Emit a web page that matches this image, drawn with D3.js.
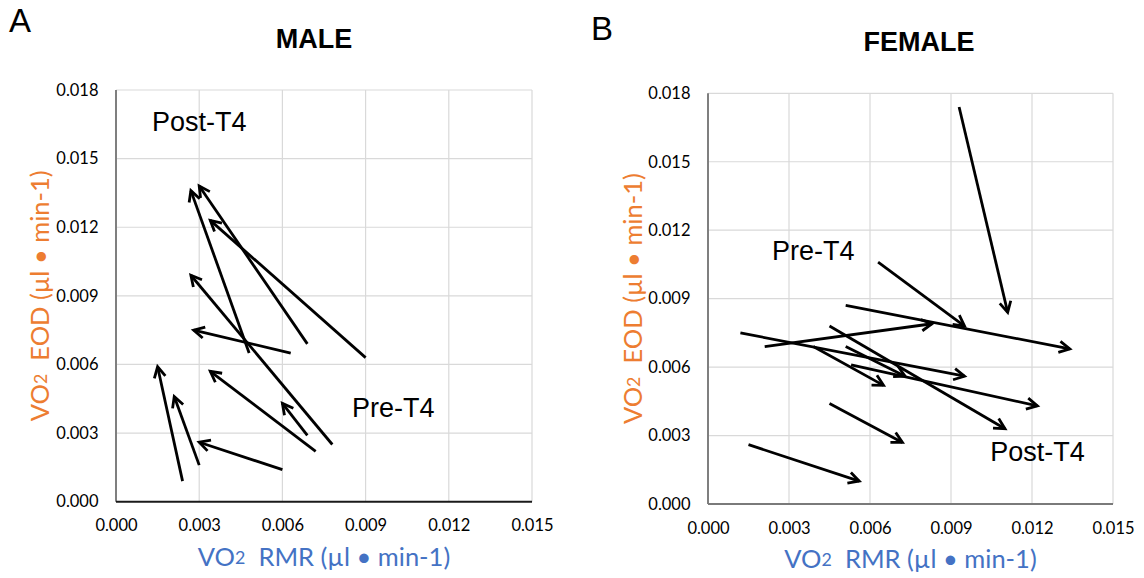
<!DOCTYPE html>
<html>
<head>
<meta charset="utf-8">
<script src="https://cdn.jsdelivr.net/npm/d3@7"></script>
<style>
  body { margin: 0; background: #fff; }
  svg { display: block; }
</style>
</head>
<body>
<script>
// tick values shared by both panels
var xTicks = [0, 0.003, 0.006, 0.009, 0.012, 0.015];
var yTicks = [0, 0.003, 0.006, 0.009, 0.012, 0.015, 0.018];

// MALE: each arrow goes from pre-T4 (tail) to post-T4 (head)
var maleRmrPre  = [0.0024, 0.0030, 0.0060, 0.0072, 0.0069, 0.0078, 0.0063, 0.0048, 0.0069, 0.0090];
var maleEodPre  = [0.0009, 0.0016, 0.0014, 0.0022, 0.0029, 0.0025, 0.0065, 0.0065, 0.0069, 0.0063];
var maleRmrPost = [0.0015, 0.0021, 0.0030, 0.0034, 0.0060, 0.0027, 0.0028, 0.0027, 0.0030, 0.0034];
var maleEodPost = [0.0059, 0.0046, 0.0026, 0.0057, 0.0043, 0.0099, 0.0075, 0.0136, 0.0138, 0.0123];

// FEMALE
var femaleRmrPre  = [0.0093, 0.0063, 0.0051, 0.0021, 0.0012, 0.0045, 0.0039, 0.0051, 0.0053, 0.0045, 0.0015];
var femaleEodPre  = [0.0174, 0.0106, 0.0087, 0.0069, 0.0075, 0.0078, 0.0069, 0.0069, 0.0061, 0.0044, 0.0026];
var femaleRmrPost = [0.0111, 0.0095, 0.0134, 0.0083, 0.0095, 0.0110, 0.0065, 0.0073, 0.0122, 0.0072, 0.0056];
var femaleEodPost = [0.0084, 0.0078, 0.0068, 0.0079, 0.0056, 0.0033, 0.0052, 0.0056, 0.0043, 0.0027, 0.0010];

// in-plot annotations (data units)
var maleNotes   = [{ text: 'Post-T4', rmr: 0.0030, eod: 0.0166 }, { text: 'Pre-T4', rmr: 0.0100, eod: 0.0041 }];
var femaleNotes = [{ text: 'Pre-T4', rmr: 0.0039, eod: 0.0111 }, { text: 'Post-T4', rmr: 0.0122, eod: 0.0023 }];

var orange = '#ED7D31';
var blue = '#4472C4';
var tickFont = 'Lato, "Liberation Sans", sans-serif';
var arialFont = '"Liberation Sans", Arial, sans-serif';

var svg = d3.select('body').append('svg')
    .attr('width', 1144)
    .attr('height', 578);

function zip(a, b, c, d) {
    return a.map(function (v, i) { return { x0: v, y0: b[i], x1: c[i], y1: d[i] }; });
}

// axis title with small "2" in VO2
function axisTitle(sel, rest) {
    sel.append('tspan').text('VO');
    sel.append('tspan').attr('font-size', '70%').attr('dy', 1).text('2');
    sel.append('tspan').attr('dy', -1).text('\u00a0 ' + rest);
}

function drawPanel(cfg) {
    var g = svg.append('g');
    var x = d3.scaleLinear().domain([0, 0.015]).range([cfg.left, cfg.right]);
    var y = d3.scaleLinear().domain([0, 0.018]).range([cfg.bottom, cfg.top]);

    // grid
    g.selectAll('.vgrid').data(xTicks.slice(1)).enter().append('line')
        .attr('x1', function (d) { return x(d); })
        .attr('x2', function (d) { return x(d); })
        .attr('y1', y(0)).attr('y2', y(0.018))
        .attr('stroke', '#d9d9d9').attr('stroke-width', 1.2);
    g.selectAll('.hgrid').data(yTicks.slice(1)).enter().append('line')
        .attr('y1', function (d) { return y(d); })
        .attr('y2', function (d) { return y(d); })
        .attr('x1', x(0)).attr('x2', x(0.015))
        .attr('stroke', '#d9d9d9').attr('stroke-width', 1.2);

    // tick labels
    var fmt = d3.format('.3f');
    var ax = g.append('g').attr('transform', 'translate(0,' + y(0) + ')')
        .call(d3.axisBottom(x).tickValues(xTicks).tickSize(0).tickPadding(18).tickFormat(fmt));
    var ay = g.append('g').attr('transform', 'translate(' + x(0) + ',0)')
        .call(d3.axisLeft(y).tickValues(yTicks).tickSize(0).tickPadding(17.5).tickFormat(fmt));
    [ax, ay].forEach(function (a) {
        a.select('.domain').remove();
        a.selectAll('text').attr('font-family', tickFont).attr('font-size', 16.5).attr('fill', '#000');
    });

    // axis lines
    g.append('line').attr('x1', x(0)).attr('x2', x(0))
        .attr('y1', y(0)).attr('y2', y(0.018))
        .attr('stroke', '#7f7f7f').attr('stroke-width', 2);
    g.append('line').attr('x1', x(0)).attr('x2', x(0.015))
        .attr('y1', y(0)).attr('y2', y(0))
        .attr('stroke', cfg.xAxisColor).attr('stroke-width', 2);

    // arrows
    var arrows = zip(cfg.rmrPre, cfg.eodPre, cfg.rmrPost, cfg.eodPost);
    var headLen = 12, headAng = 28 / 180 * Math.PI;
    arrows.forEach(function (a) {
        var tx = x(a.x0), ty = y(a.y0), hx = x(a.x1), hy = y(a.y1);
        var ang = Math.atan2(hy - ty, hx - tx);
        g.append('line')
            .attr('x1', tx).attr('y1', ty).attr('x2', hx).attr('y2', hy)
            .attr('stroke', '#000').attr('stroke-width', 2.8);
        var p1 = [hx - headLen * Math.cos(ang - headAng), hy - headLen * Math.sin(ang - headAng)];
        var p2 = [hx - headLen * Math.cos(ang + headAng), hy - headLen * Math.sin(ang + headAng)];
        g.append('path')
            .attr('d', d3.line()([p1, [hx, hy], p2]))
            .attr('fill', 'none').attr('stroke', '#000')
            .attr('stroke-width', 2.8).attr('stroke-linejoin', 'miter');
    });

    // annotations
    g.selectAll('.note').data(cfg.notes).enter().append('text')
        .attr('x', function (d) { return x(d.rmr); })
        .attr('y', function (d) { return y(d.eod); })
        .attr('text-anchor', 'middle')
        .attr('dominant-baseline', 'central')
        .attr('font-family', arialFont).attr('font-size', 27)
        .text(function (d) { return d.text; });

    // title
    g.append('text')
        .attr('x', cfg.titleX).attr('y', cfg.titleY)
        .attr('text-anchor', 'middle')
        .attr('font-family', arialFont).attr('font-size', 27).attr('font-weight', 'bold')
        .text(cfg.title);

    // panel letter
    g.append('text')
        .attr('x', cfg.letterX).attr('y', cfg.letterY)
        .attr('font-family', arialFont).attr('font-size', 33)
        .text(cfg.letter);

    // x axis title
    var xt = g.append('text')
        .attr('x', (cfg.left + cfg.right) / 2).attr('y', cfg.bottom + 54)
        .attr('dominant-baseline', 'central')
        .attr('text-anchor', 'middle')
        .attr('font-family', tickFont).attr('font-size', 25.5)
        .attr('fill', blue);
    axisTitle(xt, 'RMR (µl • min-1)');

    // y axis title
    var yt = g.append('text')
        .attr('transform', 'translate(' + cfg.yTitleX + ',' + (cfg.top + cfg.bottom) / 2 + ') rotate(-90)')
        .attr('dominant-baseline', 'central')
        .attr('text-anchor', 'middle')
        .attr('font-family', tickFont).attr('font-size', 25.5)
        .attr('fill', orange);
    axisTitle(yt, 'EOD (µl • min-1)');
}

drawPanel({
    left: 116, right: 532, top: 90, bottom: 501.7,
    xAxisColor: '#1a1a1a',
    rmrPre: maleRmrPre, eodPre: maleEodPre, rmrPost: maleRmrPost, eodPost: maleEodPost,
    notes: maleNotes,
    title: 'MALE', titleX: 314, titleY: 48,
    letter: 'A', letterX: 9, letterY: 32,
    yTitleX: 39
});

drawPanel({
    left: 708, right: 1113, top: 93.3, bottom: 504,
    xAxisColor: '#7a7a7a',
    rmrPre: femaleRmrPre, eodPre: femaleEodPre, rmrPost: femaleRmrPost, eodPost: femaleEodPost,
    notes: femaleNotes,
    title: 'FEMALE', titleX: 919, titleY: 50.5,
    letter: 'B', letterX: 591, letterY: 40,
    yTitleX: 632
});
</script>
</body>
</html>
